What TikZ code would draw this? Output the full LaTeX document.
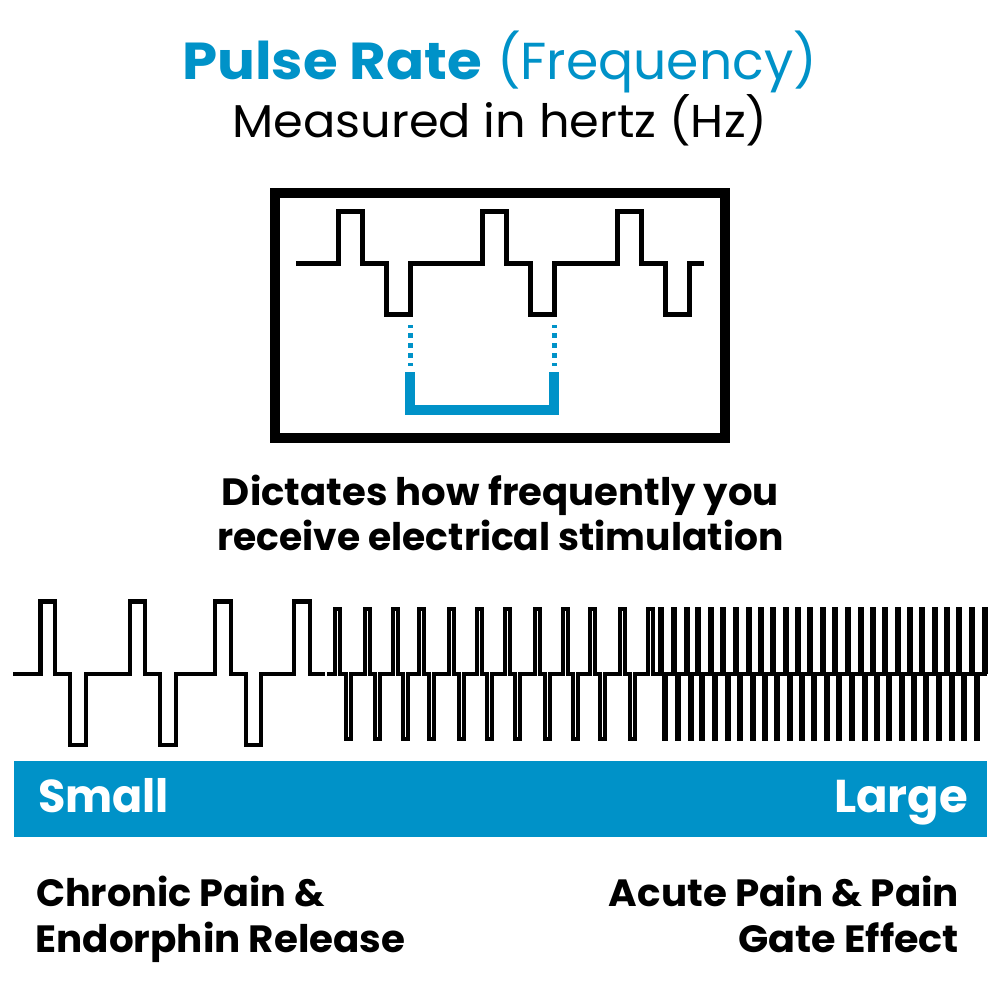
\documentclass[tikz,border=0pt]{standalone}
\usepackage{fontspec}
\setmainfont{Poppins}
\definecolor{tensblue}{HTML}{0092C8}
\newcommand{\fitw}[2]{\resizebox{#1pt}{\height}{#2}}
\tikzset{
  wavebox/.style={draw=black,line width=5pt},
  wave/.style={draw=black,line width=4.5pt},
  wavethin/.style={draw=black,line width=4.3pt},
  bar/.style={draw=black,line width=6pt},
  txt/.style={inner sep=0pt,outer sep=0pt,anchor=base},
  txtl/.style={txt,anchor=base west},
  txtr/.style={txt,anchor=base east},
}
\begin{document}
\begin{tikzpicture}[x=1pt,y=-1pt]
\useasboundingbox (0,0) rectangle (1000,1000);
\fill[white] (0,0) rectangle (1000,1000);
% titles
\node[txtl,text=tensblue] (title) at (182,80) {\fitw{300}{\fontsize{52}{60}\selectfont\textbf{Pulse Rate}}\hspace{15pt}\fitw{320}{\fontsize{52}{60}\selectfont (Frequency)}};
\node[txt] (sub) at (500,137.5) {\fitw{535}{\fontsize{46}{54}\selectfont Measured in hertz (Hz)}};
% frame
\draw[line width=10pt] (275,193) rectangle (725,438);
\draw[wavebox] (296,263) -- (338,263) -- (338,212) -- (362,212) -- (362,263) -- (386,263) -- (386,314) -- (410,314) -- (410,263)
  -- (482,263) -- (482,212) -- (506,212) -- (506,263) -- (530,263) -- (530,314) -- (554,314) -- (554,263)
  -- (617,263) -- (617,212) -- (641,212) -- (641,263) -- (665,263) -- (665,314) -- (689,314) -- (689,263) -- (704,263);
\draw[tensblue,line width=5pt,dash pattern=on 5pt off 5pt,dash phase=2pt] (410,325) -- (410,366);
\draw[tensblue,line width=5pt,dash pattern=on 5pt off 5pt,dash phase=2pt] (554,325) -- (554,366);
\draw[tensblue,line width=10pt] (410,372) -- (410,410) -- (554,410) -- (554,372);
% captions
\node[txt] (cap1) at (500.5,505.5) {\fitw{557}{\fontsize{38}{44}\selectfont\textbf{Dictates how frequently you}}};
\node[txt] (cap2) at (500.5,550.5) {\fitw{566}{\fontsize{38}{44}\selectfont\textbf{receive electrical stimulation}}};
% slow wave
\draw[wave] (13,674) -- (40.5,674) -- (40.5,601.5) -- (55,601.5) -- (55,674) -- (70,674) -- (70,745) -- (86,745) -- (86,674)
  -- (130,674) -- (130,601.5) -- (145,601.5) -- (145,674) -- (160,674) -- (160,745) -- (176,745) -- (176,674)
  -- (215,674) -- (215,601.5) -- (231,601.5) -- (231,674) -- (246,674) -- (246,745) -- (261,745) -- (261,674)
  -- (294,674) -- (294,601.5) -- (310,601.5) -- (310,674) -- (325,674);
% medium wave
\draw[wavethin] (327,674) -- (335,674) -- (335,609) -- (340,609) -- (340,674) -- (346,674) -- (346,739) -- (351,739) -- (351,674)
  -- (365,674) -- (365,609) -- (370,609) -- (370,674) -- (375,674) -- (375,739) -- (380,739) -- (380,674)
  -- (393,674) -- (393,609) -- (398,609) -- (398,674) -- (403,674) -- (403,739) -- (408,739) -- (408,674)
  -- (419,674) -- (419,609) -- (424,609) -- (424,674) -- (429,674) -- (429,739) -- (434,739) -- (434,674)
  -- (449,674) -- (449,609) -- (454,609) -- (454,674) -- (459,674) -- (459,739) -- (464,739) -- (464,674)
  -- (477,674) -- (477,609) -- (482,609) -- (482,674) -- (487,674) -- (487,739) -- (492,739) -- (492,674)
  -- (505,674) -- (505,609) -- (510,609) -- (510,674) -- (515,674) -- (515,739) -- (520,739) -- (520,674)
  -- (535,674) -- (535,609) -- (540,609) -- (540,674) -- (545,674) -- (545,739) -- (550,739) -- (550,674)
  -- (563,674) -- (563,609) -- (568,609) -- (568,674) -- (573,674) -- (573,739) -- (578,739) -- (578,674)
  -- (590,674) -- (590,609) -- (595,609) -- (595,674) -- (600,674) -- (600,739) -- (605,739) -- (605,674)
  -- (620,674) -- (620,609) -- (625,609) -- (625,674) -- (630,674) -- (630,739) -- (635,739) -- (635,674)
  -- (648,674) -- (648,609) -- (653,609) -- (653,674) -- (987,674);
% fast wave
\foreach \c in {63,103,140,174,213,250,287,326,362,398,437,473,510,548,585,623,663,699,734,773,810,846,885,922,958,996,1034}
  \draw[bar] ({640+\c/3},607) -- ({640+\c/3},674);
\foreach \c in {76,115,152,186,225,263,299,338,375,411,449,486,522,560,598,635,675,711,747,786,822,859,898,935,971,1010}
  \draw[bar] ({640+\c/3},674) -- ({640+\c/3},741);
% scale bar
\fill[tensblue] (14,761) rectangle (987,837);
\node[txtl,text=white] (small) at (38,812) {\fitw{131}{\fontsize{46}{50}\selectfont\textbf{Small}}};
\node[txtr,text=white] (large) at (968,812) {\fitw{134}{\fontsize{46}{50}\selectfont\textbf{Large}}};
% labels
\node[txtl] (c1) at (36,906) {\fitw{289}{\fontsize{38}{40}\selectfont\textbf{Chronic Pain \&}}};
\node[txtl] (c2) at (35.5,952) {\fitw{370}{\fontsize{38}{40}\selectfont\textbf{Endorphin Release}}};
\node[txtr] (a1) at (959,906) {\fitw{350}{\fontsize{38}{40}\selectfont\textbf{Acute Pain \& Pain}}};
\node[txtr] (a2) at (959,952) {\fitw{221}{\fontsize{38}{40}\selectfont\textbf{Gate Effect}}};
\end{tikzpicture}
\end{document}
